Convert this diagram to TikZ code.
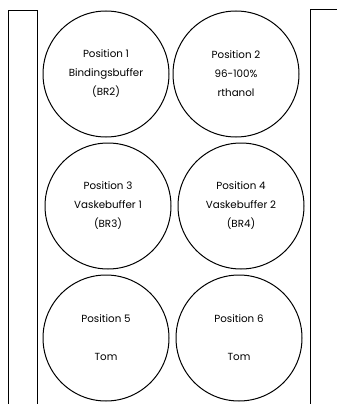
\documentclass[tikz,border=0pt]{standalone}
\usepackage{fontspec}
\setmainfont{Poppins}
\begin{document}
\begin{tikzpicture}[x=1pt,y=-1pt,
  well/.style={draw=black,line width=1pt,circle,minimum size=126pt,inner sep=0pt,align=center,font=\fontsize{10.3}{19}\selectfont},
  rail/.style={draw=black,line width=0.9pt}]
\useasboundingbox (0,0) rectangle (337,404);
\draw[rail] (8,404) -- (8,10) -- (37,10) -- (37,404);
\draw[rail] (310,404) -- (310,9.5) -- (337,9.5);
\node[well] (p1) at (106,74) {Position 1\\Bindingsbuffer\\(BR2)};
\node[well] (p2) at (236,74) {Position 2\\96-100\%\\rthanol};
\node[well] (p3) at (108,206) {Position 3\\Vaskebuffer 1\\(BR3)};
\node[well] (p4) at (241,206) {Position 4\\Vaskebuffer 2\\(BR4)};
\node[well] (p5) at (106,338) {Position 5\\[19pt]Tom};
\node[well] (p6) at (239,338) {Position 6\\[19pt]Tom};
\end{tikzpicture}
\end{document}
